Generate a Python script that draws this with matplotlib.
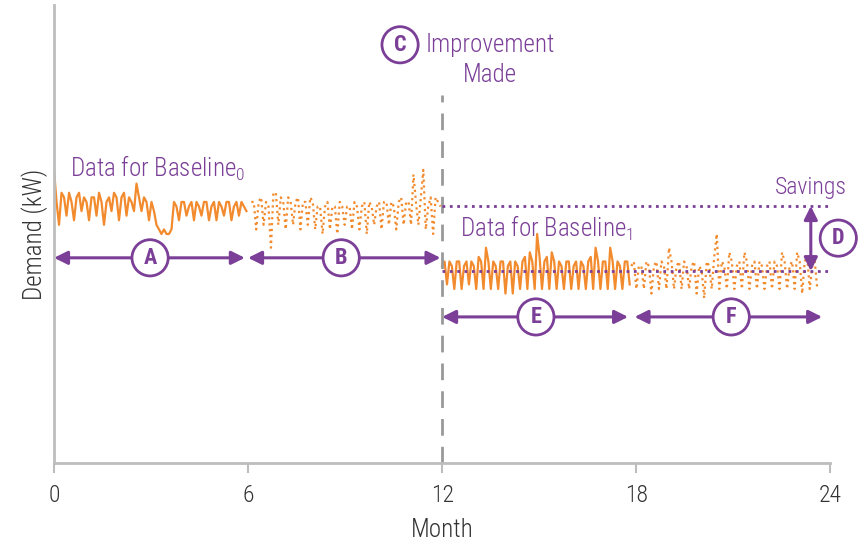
import numpy as np
import matplotlib
matplotlib.use("Agg")
import matplotlib.pyplot as plt

plt.rcParams['font.family'] = ['Roboto Condensed', 'DejaVu Sans']
plt.rcParams['font.weight'] = 'light'
plt.rcParams['axes.labelweight'] = 'light'
plt.rcParams['mathtext.fontset'] = 'custom'
plt.rcParams['mathtext.rm'] = 'Roboto Condensed:light'

# demand readings, three per week (kW), one list per half year
base0_first = [64, 57, 52, 59, 58, 54, 59, 57, 53, 58, 59, 55, 58, 57, 53, 58, 58, 54,
               59, 57, 52, 57, 58, 55, 59, 58, 53, 58, 59, 54, 58, 57, 55, 61, 58, 55,
               58, 57, 53, 57, 55, 52, 51, 50, 51, 50, 50, 51, 57, 56, 53, 57, 57, 54,
               56, 57, 53, 57, 56, 54, 57, 57, 53, 56, 57, 53, 57, 56, 54, 57, 57, 53,
               56, 57, 54, 57, 56, 55]
base0_second = [57, 57, 51, 57, 58, 52, 57, 56, 47, 59, 59, 52, 58, 57, 51, 58, 57, 52,
                57, 58, 51, 57, 57, 52, 58, 57, 51, 56, 56, 50, 56, 57, 51, 56, 56, 50,
                57, 56, 52, 56, 56, 51, 57, 56, 51, 56, 57, 50, 57, 56, 52, 56, 57, 51,
                57, 57, 52, 57, 56, 51, 57, 58, 52, 57, 57, 52, 63, 57, 52, 58, 64, 51,
                56, 58, 50, 58, 57, 56]
base1_first = [43, 44, 39, 44, 43, 38, 44, 44, 38, 43, 44, 39, 44, 43, 38, 45, 44, 38,
               47, 44, 38, 44, 43, 38, 44, 44, 37, 43, 44, 37, 44, 43, 38, 44, 45, 38,
               46, 44, 38, 50, 45, 38, 44, 45, 38, 46, 44, 38, 44, 43, 38, 44, 44, 38,
               43, 44, 38, 44, 43, 38, 44, 45, 38, 47, 44, 38, 44, 44, 38, 47, 44, 38,
               44, 43, 38, 44, 44, 39]
base1_second = [43, 44, 38, 43, 43, 38, 44, 43, 37, 43, 44, 38, 44, 43, 38, 47, 44, 38,
                43, 44, 38, 44, 43, 38, 43, 44, 37, 43, 42, 36, 44, 43, 38, 45, 50, 38,
                44, 43, 38, 46, 44, 38, 43, 44, 38, 46, 44, 38, 43, 44, 38, 44, 43, 38,
                43, 44, 38, 44, 43, 38, 46, 44, 38, 43, 44, 38, 46, 44, 37, 44, 45, 38,
                43, 44, 38]

segments = [(0.0, 5.95, base0_first, '-'),
            (6.1, 11.95, base0_second, ':'),
            (12.0, 17.8, base1_first, '-'),
            (17.85, 23.6, base1_second, ':')]

baseline0_level = 56.1
baseline1_level = 41.9

orange = '#F28A2E'
purple = '#7B3F98'
grey = '#BDBDBD'

fig = plt.figure(figsize=(8.63, 5.48), dpi=100)
ax = fig.add_axes([0.0626, 0.155, 0.8994, 0.836])

for start, end, vals, ls in segments:
    x = np.linspace(start, end, len(vals))
    ax.plot(x, vals, color=orange, lw=1.6, ls=ls)

# improvement line
ax.plot([12, 12], [0, 80.3], color='#999999', lw=2, dashes=(6, 4))

# baselines
ax.plot([12, 24], [baseline0_level, baseline0_level], color=purple, lw=2, ls=':')
ax.plot([12, 24], [baseline1_level, baseline1_level], color=purple, lw=2, ls=':')

arrow_kw = dict(arrowstyle='<|-|>', color=purple, lw=2.2, mutation_scale=20,
                shrinkA=0, shrinkB=0)
for x0, x1, y in [(0.0, 5.9, 44.8), (6.0, 11.95, 44.8),
                  (12.0, 17.75, 31.9), (17.95, 23.75, 31.9)]:
    ax.annotate('', xy=(x1, y), xytext=(x0, y), arrowprops=arrow_kw,
                annotation_clip=False)
ax.annotate('', xy=(23.4, baseline1_level), xytext=(23.4, baseline0_level),
            arrowprops=arrow_kw, annotation_clip=False)

circ = dict(boxstyle='circle,pad=0.32', fc='white', ec=purple, lw=2)
for letter, x, y in [('A', 2.97, 44.8), ('B', 8.88, 44.8), ('E', 14.9, 31.9),
                     ('F', 20.94, 31.9), ('C', 10.7, 91.3), ('D', 24.25, 49.1)]:
    ax.text(x, y, letter, color=purple, fontsize=16, fontweight='bold',
            ha='center', va='center', bbox=circ, clip_on=False)

ax.text(13.49, 88.0, 'Improvement\nMade', color=purple, fontsize=18,
        ha='center', va='center', linespacing=1.3)
ax.text(23.4, 60.2, 'Savings', color=purple, fontsize=17, ha='center', va='center')
ax.text(0.5, 64.4, r'Data for Baseline$_\mathrm{0}$', color=purple, fontsize=18,
        ha='left', va='center')
ax.text(12.56, 51.3, r'Data for Baseline$_\mathrm{1}$', color=purple, fontsize=18,
        ha='left', va='center')

ax.set_xlim(0, 24)
ax.set_ylim(0, 100)
ax.set_xticks([0, 6, 12, 18, 24])
ax.set_yticks([])
ax.tick_params(axis='x', length=7, width=1.5, color=grey, labelsize=17,
               labelcolor='#333333', pad=8)
for side in ['top', 'right']:
    ax.spines[side].set_visible(False)
for side in ['left', 'bottom']:
    ax.spines[side].set_color(grey)
    ax.spines[side].set_linewidth(2)
ax.set_xlabel('Month', fontsize=18, color='#333333', labelpad=8)
ax.set_ylabel('Demand (kW)', fontsize=18, color='#333333', labelpad=4)

fig.savefig('out.png', dpi=100)
